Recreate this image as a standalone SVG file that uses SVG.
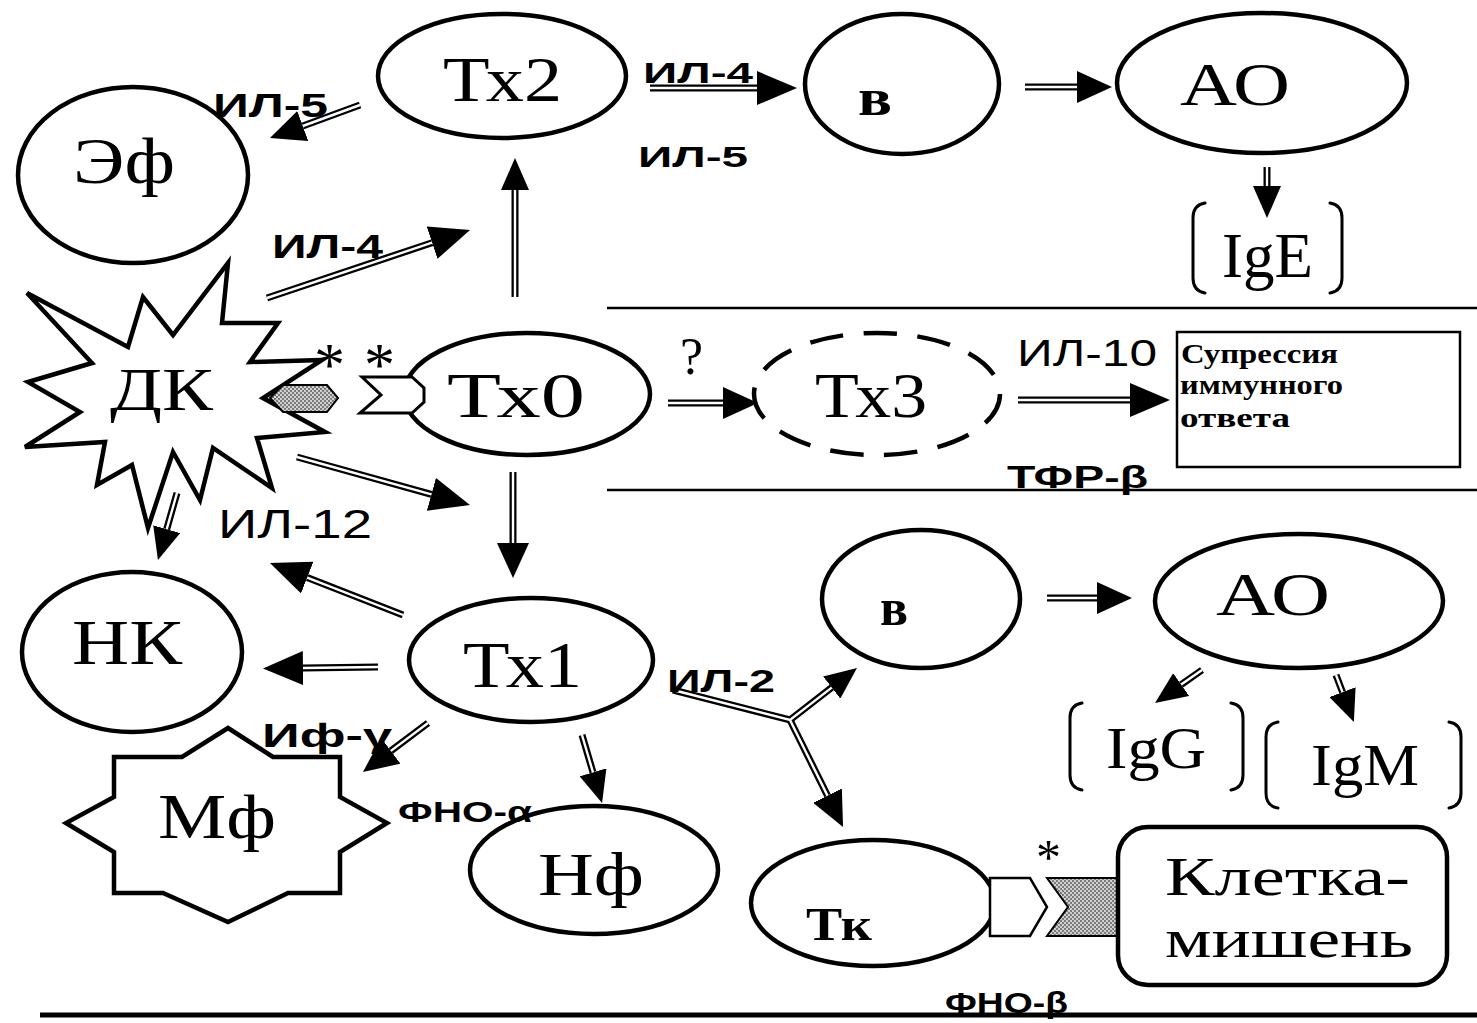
<svg xmlns="http://www.w3.org/2000/svg" width="1477" height="1023" viewBox="0 0 1477 1023">
  <style>
    .node { fill: #fff; stroke: #000; stroke-width: 4.5; }
    .dash { fill: none; stroke: #000; stroke-width: 4.5; stroke-dasharray: 0.62 0.38; }
    .thin { fill: none; stroke: #000; stroke-width: 2.5; }
    .brk { fill: none; stroke: #000; stroke-width: 3; stroke-linecap: round; }
    .lbl { font-family: "Liberation Serif", "Times New Roman", serif; fill: #000; }
    .bold { font-weight: bold; }
    .cyt { font-family: "Liberation Sans", Arial, sans-serif; font-weight: bold; fill: #000; }
    .reg { font-family: "Liberation Sans", Arial, sans-serif; fill: #000; }
    .shaft { fill: none; stroke: #000; stroke-width: 7; }
    .gap { fill: none; stroke: #fff; stroke-width: 2.4; }
  </style>
  <defs>
    <marker id="ahL" markerUnits="userSpaceOnUse" viewBox="0 0 40 34" markerWidth="40" markerHeight="34" refX="0" refY="17" orient="auto">
      <path d="M0,0 L40,17 L0,34 z" fill="#000"/>
    </marker>
    <marker id="ahM" markerUnits="userSpaceOnUse" viewBox="0 0 35 32" markerWidth="35" markerHeight="32" refX="0" refY="16" orient="auto">
      <path d="M0,0 L35,16 L0,32 z" fill="#000"/>
    </marker>
    <marker id="ahS" markerUnits="userSpaceOnUse" viewBox="0 0 32 28" markerWidth="32" markerHeight="28" refX="0" refY="14" orient="auto">
      <path d="M0,0 L32,14 L0,28 z" fill="#000"/>
    </marker>
    <pattern id="stipple" width="4" height="4" patternUnits="userSpaceOnUse">
      <rect width="4" height="4" fill="#cfcfcf"/>
      <circle cx="1" cy="1" r="0.9" fill="#555"/>
      <circle cx="3" cy="3" r="0.9" fill="#555"/>
    </pattern>
  </defs>

  <rect width="1477" height="1023" fill="#fff"/>

  <!-- section rules -->
  <g id="rules">
    <line x1="607" y1="308" x2="1477" y2="308" stroke="#000" stroke-width="2.5"/>
    <line x1="607" y1="490" x2="1477" y2="490" stroke="#000" stroke-width="2.5"/>
    <line x1="40" y1="1015" x2="1477" y2="1015" stroke="#000" stroke-width="5"/>
  </g>

  <!-- connectors: double-line shafts ending at the arrowhead base -->
  <g id="connectors">
    <path class="shaft" marker-end="url(#ahM)" d="M360,105 L302.8,126"/>
    <path class="gap" d="M360,105 L302.8,126"/>
    <path class="shaft" marker-end="url(#ahL)" d="M267,298 L432.1,242.7"/>
    <path class="gap" d="M267,298 L432.1,242.7"/>
    <path class="shaft" marker-end="url(#ahS)" d="M515,297 L515,190"/>
    <path class="gap" d="M515,297 L515,190"/>
    <path class="shaft" marker-end="url(#ahL)" d="M650,88 L757,88"/>
    <path class="gap" d="M650,88 L757,88"/>
    <path class="shaft" marker-end="url(#ahM)" d="M1025,87 L1077,87"/>
    <path class="gap" d="M1025,87 L1077,87"/>
    <path class="shaft" marker-end="url(#ahS)" d="M1267,167 L1267,186"/>
    <path class="gap" d="M1267,167 L1267,186"/>
    <path class="shaft" marker-end="url(#ahM)" d="M668,403 L723,403"/>
    <path class="gap" d="M668,403 L723,403"/>
    <path class="shaft" marker-end="url(#ahL)" d="M1018,400 L1130,400"/>
    <path class="gap" d="M1018,400 L1130,400"/>
    <path class="shaft" marker-end="url(#ahL)" d="M297,457 L431.4,494.3"/>
    <path class="gap" d="M297,457 L431.4,494.3"/>
    <path class="shaft" marker-end="url(#ahM)" d="M513,472 L513,543"/>
    <path class="gap" d="M513,472 L513,543"/>
    <path class="shaft" marker-end="url(#ahS)" d="M177,493 L166.7,529.2"/>
    <path class="gap" d="M177,493 L166.7,529.2"/>
    <path class="shaft" marker-end="url(#ahL)" d="M403,615 L307.2,577.6"/>
    <path class="gap" d="M403,615 L307.2,577.6"/>
    <path class="shaft" marker-end="url(#ahL)" d="M378,667 L303,668"/>
    <path class="gap" d="M378,667 L303,668"/>
    <path class="shaft" marker-end="url(#ahM)" d="M428,723 L390.9,750.9"/>
    <path class="gap" d="M428,723 L390.9,750.9"/>
    <path class="shaft" marker-end="url(#ahS)" d="M582,735 L593,772.3"/>
    <path class="gap" d="M582,735 L593,772.3"/>
    <!-- IL-2 fork towards B cell and Tk -->
    <path class="shaft" marker-end="url(#ahS)" d="M673,690 L790,720 L831.7,687.6"/>
    <path class="shaft" marker-end="url(#ahM)" d="M790,720 L827.5,795.6"/>
    <path class="gap" d="M673,690 L790,720 L831.7,687.6"/>
    <path class="gap" d="M790,720 L827.5,795.6"/>
    <path class="shaft" marker-end="url(#ahM)" d="M1047,598 L1097,598"/>
    <path class="gap" d="M1047,598 L1097,598"/>
    <path class="shaft" marker-end="url(#ahS)" d="M1202,670 L1181.2,684.6"/>
    <path class="gap" d="M1202,670 L1181.2,684.6"/>
    <path class="shaft" marker-end="url(#ahS)" d="M1336,675 L1342.5,692.1"/>
    <path class="gap" d="M1336,675 L1342.5,692.1"/>
  </g>

  <!-- top row -->
  <g id="node-ef">
    <ellipse class="node" cx="133" cy="175" rx="115" ry="88"/>
    <text class="lbl" x="73" y="183" font-size="66" textLength="102" lengthAdjust="spacingAndGlyphs">Эф</text>
  </g>
  <g id="node-th2">
    <ellipse class="node" cx="502" cy="76" rx="124" ry="62"/>
    <text class="lbl" x="443" y="101" font-size="64" textLength="119" lengthAdjust="spacingAndGlyphs">Тх2</text>
  </g>
  <g id="node-b-top">
    <ellipse class="node" cx="902" cy="84" rx="97" ry="70"/>
    <text class="lbl bold" x="858" y="115" font-size="52" textLength="34" lengthAdjust="spacingAndGlyphs">в</text>
  </g>
  <g id="node-ao-top">
    <ellipse class="node" cx="1262" cy="83" rx="145" ry="70"/>
    <text class="lbl" x="1180" y="105" font-size="62" textLength="110" lengthAdjust="spacingAndGlyphs">АО</text>
  </g>
  <g id="node-ige">
    <path class="brk" d="M1205,203 Q1193,205 1193,218 L1193,278 Q1193,291 1205,293"/>
    <path class="brk" d="M1330,203 Q1342,205 1342,218 L1342,278 Q1342,291 1330,293"/>
    <text class="lbl" x="1222" y="277" font-size="64" textLength="91" lengthAdjust="spacingAndGlyphs">IgE</text>
  </g>

  <!-- middle row -->
  <g id="node-dc">
    <polygon class="node" points="27,293 128,347 143,297 173,335 228,263 222,323 278,323 250,362 322,360 263,398 325,432 257,438 272,488 213,448 200,500 173,452 148,528 132,465 97,485 105,442 25,447 80,412 28,382 92,363"/>
    <text class="lbl" x="110" y="410" font-size="62" textLength="103" lengthAdjust="spacingAndGlyphs">ДК</text>
    <polygon points="270,398 283,385 327,385 338,398 327,412 283,412" fill="url(#stipple)" stroke="#000" stroke-width="2"/>
  </g>
  <g id="node-th0">
    <ellipse class="node" cx="527" cy="394" rx="123" ry="61"/>
    <polygon points="362,377 412,377 424,388 424,402 412,413 360,413 381,395" fill="#fff" stroke="#000" stroke-width="3"/>
    <text class="lbl" x="447" y="417" font-size="64" textLength="138" lengthAdjust="spacingAndGlyphs">Тх0</text>
  </g>
  <text class="lbl" x="314" y="385" font-size="62">*</text>
  <text class="lbl" x="364" y="385" font-size="62">*</text>
  <text class="lbl" x="680" y="374" font-size="52">?</text>
  <g id="node-th3">
    <ellipse class="dash" cx="877" cy="394" rx="123" ry="61" pathLength="11"/>
    <text class="lbl" x="815" y="417" font-size="64" textLength="112" lengthAdjust="spacingAndGlyphs">Тх3</text>
  </g>
  <g id="node-suppression">
    <rect class="thin" x="1177" y="332" width="283" height="135"/>
    <text class="lbl bold" x="1181" y="363" font-size="28" textLength="157" lengthAdjust="spacingAndGlyphs">Супрессия</text>
    <text class="lbl bold" x="1180" y="394" font-size="28" textLength="163" lengthAdjust="spacingAndGlyphs">иммунного</text>
    <text class="lbl bold" x="1180" y="427" font-size="28" textLength="110" lengthAdjust="spacingAndGlyphs">ответа</text>
  </g>

  <!-- bottom row -->
  <g id="node-nk">
    <ellipse class="node" cx="132" cy="652" rx="110" ry="80"/>
    <text class="lbl" x="72" y="664" font-size="64" textLength="110" lengthAdjust="spacingAndGlyphs">НК</text>
  </g>
  <g id="node-th1">
    <ellipse class="node" cx="531" cy="660" rx="122" ry="62"/>
    <text class="lbl" x="463" y="687" font-size="66" textLength="119" lengthAdjust="spacingAndGlyphs">Тх1</text>
  </g>
  <g id="node-mf">
    <polygon class="node" points="228,728 273,757 340,757 340,797 387,823 340,852 340,893 288,893 228,922 163,893 114,893 114,852 66,823 114,797 114,757 182,757"/>
    <text class="lbl" x="158" y="838" font-size="64" textLength="118" lengthAdjust="spacingAndGlyphs">Мф</text>
  </g>
  <g id="node-nf">
    <ellipse class="node" cx="594" cy="870" rx="124" ry="64"/>
    <text class="lbl" x="538" y="895" font-size="62" textLength="106" lengthAdjust="spacingAndGlyphs">Нф</text>
  </g>
  <g id="node-b-bottom">
    <ellipse class="node" cx="921" cy="599" rx="99" ry="69"/>
    <text class="lbl bold" x="880" y="625" font-size="52" textLength="28" lengthAdjust="spacingAndGlyphs">в</text>
  </g>
  <g id="node-ao-bottom">
    <ellipse class="node" cx="1299" cy="601" rx="144" ry="67"/>
    <text class="lbl" x="1216" y="615" font-size="62" textLength="114" lengthAdjust="spacingAndGlyphs">АО</text>
  </g>
  <g id="node-igg">
    <path class="brk" d="M1082,703 Q1070,705 1070,718 L1070,775 Q1070,788 1082,790"/>
    <path class="brk" d="M1231,703 Q1243,705 1243,718 L1243,775 Q1243,788 1231,790"/>
    <text class="lbl" x="1106" y="768" font-size="60" textLength="100" lengthAdjust="spacingAndGlyphs">IgG</text>
  </g>
  <g id="node-igm">
    <path class="brk" d="M1278,722 Q1266,724 1266,737 L1266,793 Q1266,806 1278,808"/>
    <path class="brk" d="M1449,722 Q1461,724 1461,737 L1461,793 Q1461,806 1449,808"/>
    <text class="lbl" x="1311" y="785" font-size="60" textLength="108" lengthAdjust="spacingAndGlyphs">IgM</text>
  </g>
  <g id="node-tk">
    <ellipse class="node" cx="873" cy="903" rx="122" ry="63"/>
    <polygon points="990,878 1030,878 1047,907 1030,936 990,936" fill="#fff" stroke="#000" stroke-width="2.5"/>
    <text class="lbl bold" x="806" y="940" font-size="46" textLength="66" lengthAdjust="spacingAndGlyphs">Тк</text>
  </g>
  <text class="lbl" x="1036" y="874" font-size="50">*</text>
  <g id="node-target">
    <polygon points="1047,878 1120,878 1138,907 1120,936 1047,936 1068,907" fill="url(#stipple)" stroke="#000" stroke-width="2"/>
    <rect class="node" x="1118" y="827" width="329" height="158" rx="30"/>
    <text class="lbl" x="1165" y="895" font-size="54" textLength="245" lengthAdjust="spacingAndGlyphs">Клетка-</text>
    <text class="lbl" x="1165" y="957" font-size="54" textLength="248" lengthAdjust="spacingAndGlyphs">мишень</text>
  </g>

  <!-- cytokine labels -->
  <g id="cytokines">
    <text class="cyt" x="213" y="117" font-size="34" textLength="115" lengthAdjust="spacingAndGlyphs">ИЛ-5</text>
    <text class="cyt" x="643" y="83" font-size="30" textLength="110" lengthAdjust="spacingAndGlyphs">ИЛ-4</text>
    <text class="cyt" x="638" y="167" font-size="29" textLength="110" lengthAdjust="spacingAndGlyphs">ИЛ-5</text>
    <text class="cyt" x="272" y="258" font-size="34" textLength="111" lengthAdjust="spacingAndGlyphs">ИЛ-4</text>
    <text class="reg" x="1017" y="366" font-size="36" textLength="140" lengthAdjust="spacingAndGlyphs">ИЛ-10</text>
    <text class="cyt" x="1007" y="488" font-size="31" textLength="141" lengthAdjust="spacingAndGlyphs">ТФР-β</text>
    <text class="reg" x="218" y="538" font-size="40" textLength="154" lengthAdjust="spacingAndGlyphs">ИЛ-12</text>
    <text class="cyt" x="262" y="747" font-size="34" textLength="130" lengthAdjust="spacingAndGlyphs">Иф-γ</text>
    <text class="cyt" x="398" y="822" font-size="29" textLength="134" lengthAdjust="spacingAndGlyphs">ФНО-α</text>
    <text class="cyt" x="667" y="692" font-size="32" textLength="108" lengthAdjust="spacingAndGlyphs">ИЛ-2</text>
    <text class="cyt" x="945" y="1013" font-size="29" textLength="123" lengthAdjust="spacingAndGlyphs">ФНО-β</text>
  </g>
</svg>
